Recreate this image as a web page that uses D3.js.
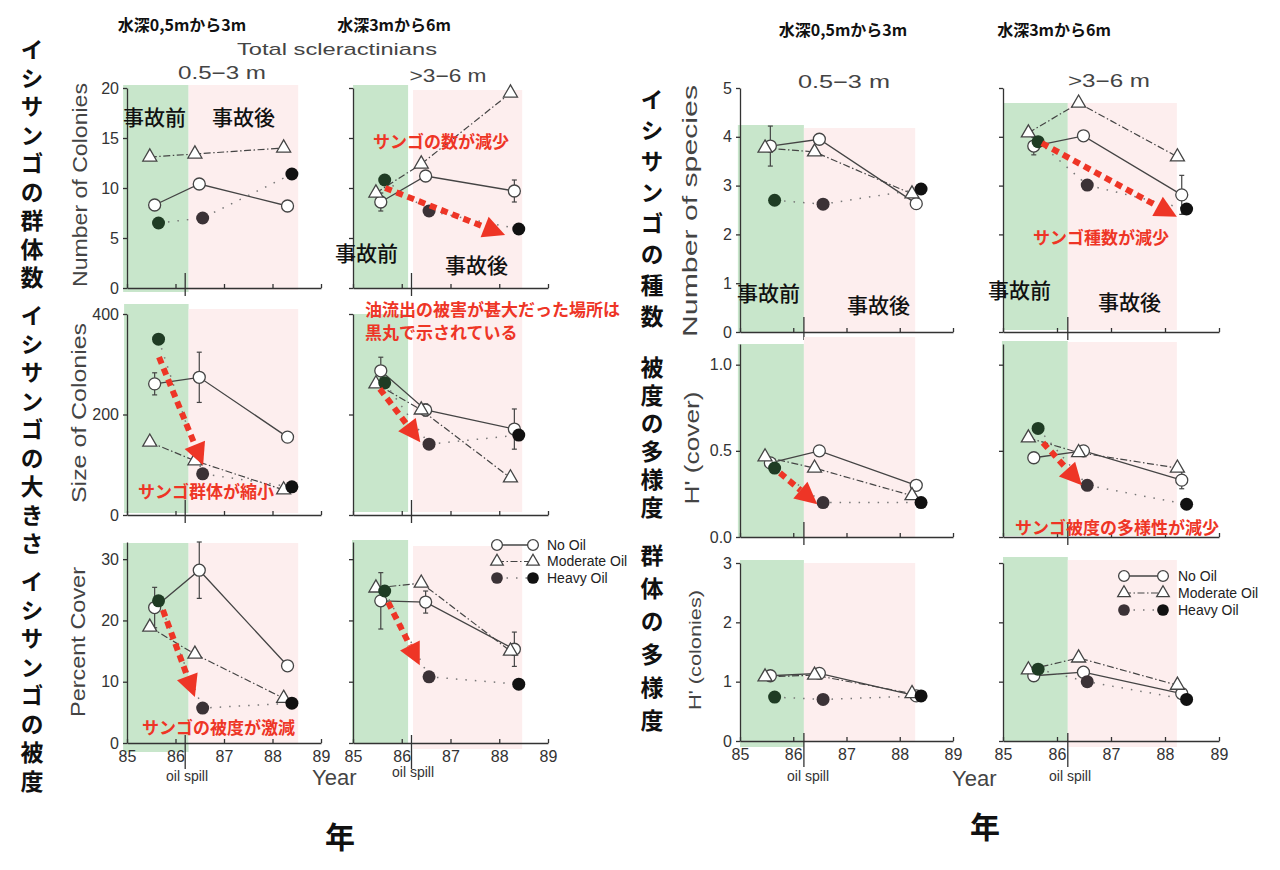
<!DOCTYPE html>
<html><head><meta charset="utf-8">
<script src="https://cdn.jsdelivr.net/npm/d3@7"></script>
<style>body{margin:0;background:#fff}svg{display:block}</style>
</head><body><svg id="c" width="1280" height="870"></svg>
<script>
// ---------- DATA ----------
const yearsNoOil = [85.57, 86.49, 88.31];
const yearsModerate = [85.47, 86.40, 88.23];
const yearsHeavy = [85.65, 86.56, 88.40];
const spillYear = 86.2;
const xTicks = [85, 86, 87, 88, 89];
const seriesNames = ["No Oil", "Moderate Oil", "Heavy Oil"];

// Number of colonies
const coloniesShallowNo = [8.3, 10.4, 8.2];
const coloniesShallowMod = [13.1, 13.4, 14.0];
const coloniesShallowHeavy = [6.5, 7.0, 11.4];
const coloniesDeepNo = [8.6, 11.2, 9.7];
const coloniesDeepNoErr = [0.9, 0, 1.1];
const coloniesDeepMod = [9.5, 12.4, 19.5];
const coloniesDeepHeavy = [10.8, 7.7, 5.9];
// Size of colonies
const sizeShallowNo = [261, 274, 155];
const sizeShallowNoErr = [22, 50, 0];
const sizeShallowMod = [145, 108, 50];
const sizeShallowHeavy = [350, 82, 56];
const sizeDeepNo = [287, 209, 171];
const sizeDeepNoErr = [27, 12, 40];
const sizeDeepMod = [261, 209, 74];
const sizeDeepHeavy = [263, 141, 159];
// Percent cover
const coverShallowNo = [22.1, 28.2, 12.6];
const coverShallowNoErr = [3.3, 4.6, 0];
const coverShallowMod = [18.9, 14.5, 7.3];
const coverShallowHeavy = [23.2, 5.7, 6.5];
const coverDeepNo = [23.2, 23.0, 15.3];
const coverDeepNoErr = [4.6, 1.8, 2.8];
const coverDeepMod = [25.3, 26.1, 15.0];
const coverDeepHeavy = [24.8, 10.8, 9.6];
// Number of species
const speciesShallowNo = [3.81, 3.95, 2.63];
const speciesShallowNoErr = [0.41, 0, 0];
const speciesShallowMod = [3.77, 3.69, 2.83];
const speciesShallowHeavy = [2.70, 2.62, 2.93];
const speciesDeepNo = [3.81, 4.02, 2.81];
const speciesDeepNoErr = [0.18, 0, 0.4];
const speciesDeepMod = [4.08, 4.69, 3.59];
const speciesDeepHeavy = [3.90, 3.01, 2.52];
// H' (cover)
const hCoverShallowNo = [0.43, 0.50, 0.30];
const hCoverShallowMod = [0.465, 0.40, 0.24];
const hCoverShallowHeavy = [0.40, 0.20, 0.20];
const hCoverDeepNo = [0.46, 0.50, 0.33];
const hCoverDeepNoErr = [0, 0, 0.05];
const hCoverDeepMod = [0.575, 0.49, 0.40];
const hCoverDeepHeavy = [0.63, 0.30, 0.19];
// H' (colonies)
const hColShallowNo = [1.10, 1.14, 0.76];
const hColShallowMod = [1.08, 1.11, 0.80];
const hColShallowHeavy = [0.74, 0.70, 0.76];
const hColDeepNo = [1.10, 1.16, 0.80];
const hColDeepMod = [1.20, 1.40, 0.94];
const hColDeepHeavy = [1.21, 1.00, 0.70];

// tick values
const ticksColonies = [0, 5, 10, 15, 20];
const ticksSize = [0, 200, 400];
const ticksCover = [0, 10, 20, 30];
const ticksSpecies = [0, 1, 2, 3, 4, 5];
const ticksHCover = [0, 0.5, 1.0];
const ticksHCol = [0, 1, 2, 3];

// ---------- LAYOUT ----------
const svg = d3.select("#c");
const RED = "#ee3526", GREEN = "#c8e6cb", PINK = "#fdeeee", AX = "#333";
const FONT = "'Liberation Sans', Arial, sans-serif";
const JP = "'Noto Sans CJK JP', sans-serif";

const cols = {
  c1: [127, 321], c2: [353, 548], c3: [740, 953], c4: [1003, 1219]
};
const rows = {
  L1: {dom: [0, 20], rng: [288, 88], ticks: ticksColonies, fmt: d3.format("d")},
  L2: {dom: [0, 400], rng: [515, 314], ticks: ticksSize, fmt: d3.format("d")},
  L3: {dom: [0, 32.8], rng: [743, 542], ticks: ticksCover, fmt: d3.format("d")},
  R1: {dom: [0, 5], rng: [332, 88], ticks: ticksSpecies, fmt: d3.format("d")},
  R2: {dom: [0, 1.12], rng: [537, 344], ticks: ticksHCover, fmt: d3.format(".1f")},
  R3: {dom: [0, 3], rng: [741, 563], ticks: ticksHCol, fmt: d3.format("d")}
};

const panels = [
  {col: "c1", row: "L1", ylab: true, xlab: false, green: [84.92, 86.27, 85, 292], pink: [86.27, 88.53, 85, 290],
    no: coloniesShallowNo, noErr: null, mod: coloniesShallowMod, heavy: coloniesShallowHeavy},
  {col: "c2", row: "L1", ylab: false, xlab: false, green: [85, 86.13, 85, 288], pink: [86.23, 88.47, 90, 288],
    no: coloniesDeepNo, noErr: coloniesDeepNoErr, mod: coloniesDeepMod, heavy: coloniesDeepHeavy,
    arrow: [[85.66, 10.0], [88.12, 5.3]]},
  {col: "c1", row: "L2", ylab: true, xlab: false, green: [84.94, 86.27, 304, 513], pink: [86.27, 88.53, 309, 513],
    no: sizeShallowNo, noErr: sizeShallowNoErr, mod: sizeShallowMod, heavy: sizeShallowHeavy,
    arrow: [[85.66, 314], [86.57, 99]]},
  {col: "c2", row: "L2", ylab: false, xlab: false, green: [85, 86.13, 314, 512], pink: [86.23, 88.47, 309, 512],
    no: sizeDeepNo, noErr: sizeDeepNoErr, mod: sizeDeepMod, heavy: sizeDeepHeavy,
    arrow: [[85.55, 251], [86.38, 145]]},
  {col: "c1", row: "L3", ylab: true, xlab: true, green: [84.92, 86.27, 543, 752], pink: [86.27, 88.53, 543, 743],
    no: coverShallowNo, noErr: coverShallowNoErr, mod: coverShallowMod, heavy: coverShallowHeavy,
    arrow: [[85.74, 21.7], [86.40, 7.5]]},
  {col: "c2", row: "L3", ylab: false, xlab: true, green: [84.98, 86.13, 540, 743], pink: [86.23, 88.47, 546, 749],
    no: coverDeepNo, noErr: coverDeepNoErr, mod: coverDeepMod, heavy: coverDeepHeavy,
    arrow: [[85.72, 23.0], [86.37, 12.7]], legend: [497, 533, 547, 545, 16.5]},
  {col: "c3", row: "R1", ylab: true, xlab: false, green: [84.96, 86.2, 125, 332], pink: [86.2, 88.29, 128, 332],
    no: speciesShallowNo, noErr: speciesShallowNoErr, mod: speciesShallowMod, heavy: speciesShallowHeavy},
  {col: "c4", row: "R1", ylab: false, xlab: false, green: [85, 86.2, 103, 330], pink: [86.2, 88.22, 103, 330],
    no: speciesDeepNo, noErr: speciesDeepNoErr, mod: speciesDeepMod, heavy: speciesDeepHeavy,
    arrow: [[85.72, 3.87], [88.22, 2.36]]},
  {col: "c3", row: "R2", ylab: true, xlab: false, green: [84.96, 86.2, 344, 537], pink: [86.2, 88.29, 337, 537],
    no: hCoverShallowNo, noErr: null, mod: hCoverShallowMod, heavy: hCoverShallowHeavy,
    arrow: [[85.75, 0.372], [86.45, 0.19]]},
  {col: "c4", row: "R2", ylab: false, xlab: false, green: [84.98, 86.2, 341, 536], pink: [86.2, 88.22, 342, 536],
    no: hCoverDeepNo, noErr: hCoverDeepNoErr, mod: hCoverDeepMod, heavy: hCoverDeepHeavy,
    arrow: [[85.74, 0.547], [86.46, 0.30]]},
  {col: "c3", row: "R3", ylab: true, xlab: true, green: [85, 86.2, 560, 747], pink: [86.2, 88.29, 563, 741],
    no: hColShallowNo, noErr: null, mod: hColShallowMod, heavy: hColShallowHeavy},
  {col: "c4", row: "R3", ylab: false, xlab: true, green: [85, 86.2, 557, 741], pink: [86.2, 88.22, 560, 747],
    no: hColDeepNo, noErr: null, mod: hColDeepMod, heavy: hColDeepHeavy, legend: [1124, 1163, 1178, 576, 17]}
];

const heavyFill = ["#1f3c24", "#3b3236", "#111"];

function drawArrow(g, x1, y1, x2, y2) {
  const dx = x2 - x1, dy = y2 - y1, L = Math.hypot(dx, dy);
  const ux = dx / L, uy = dy / L, head = 22, hw = 11;
  const bx = x2 - ux * head, by = y2 - uy * head;
  g.append("line").attr("x1", x1).attr("y1", y1).attr("x2", bx).attr("y2", by)
    .attr("stroke", RED).attr("stroke-width", 6).attr("stroke-dasharray", "7,5");
  g.append("path").attr("d", `M${x2},${y2}L${bx - uy * hw},${by + ux * hw}L${bx + uy * hw},${by - ux * hw}Z`)
    .attr("fill", RED);
}

function marker(g, type, cx, cy, fill, sc) {
  sc = sc || 1;
  if (type === "no") {
    g.append("circle").attr("cx", cx).attr("cy", cy).attr("r", 6 * sc)
      .attr("fill", "#fff").attr("stroke", "#444").attr("stroke-width", 1.3);
  } else if (type === "mod") {
    g.append("path").attr("transform", `translate(${cx},${cy})`)
      .attr("d", d3.symbol(d3.symbolTriangle, 85 * sc * sc)())
      .attr("fill", "#fff").attr("stroke", "#444").attr("stroke-width", 1.3);
  } else {
    g.append("circle").attr("cx", cx).attr("cy", cy).attr("r", 6.5 * sc).attr("fill", fill);
  }
}

const lineStyle = {
  no: {dash: null, color: "#444", w: 1.3},
  mod: {dash: "7,2.5,1.5,2.5", color: "#444", w: 1.2},
  heavy: {dash: "1.5,8", color: "#777", w: 1.5}
};

panels.forEach(p => {
  const R = rows[p.row];
  const x = d3.scaleLinear().domain([85, 89]).range(cols[p.col]);
  const y = d3.scaleLinear().domain(R.dom).range(R.rng);
  const g = svg.append("g");
  // shading
  g.append("rect").attr("x", x(p.green[0])).attr("width", x(p.green[1]) - x(p.green[0]))
    .attr("y", p.green[2]).attr("height", p.green[3] - p.green[2]).attr("fill", GREEN);
  g.append("rect").attr("x", x(p.pink[0])).attr("width", x(p.pink[1]) - x(p.pink[0]))
    .attr("y", p.pink[2]).attr("height", p.pink[3] - p.pink[2]).attr("fill", PINK);
  // axes
  const ya = d3.axisLeft(y).tickValues(R.ticks).tickSize(4).tickPadding(4).tickSizeOuter(0)
    .tickFormat(p.ylab ? R.fmt : "");
  const yg = g.append("g").attr("transform", `translate(${cols[p.col][0]},0)`).call(ya);
  const xa = d3.axisBottom(x).tickValues(xTicks).tickSize(-4).tickPadding(8).tickSizeOuter(0)
    .tickFormat(p.xlab ? d3.format("d") : "");
  const xg = g.append("g").attr("transform", `translate(0,${R.rng[0]})`).call(xa);
  [yg, xg].forEach(a => {
    a.selectAll("path,line").attr("stroke", AX).attr("stroke-width", 1.3);
    a.selectAll("text").attr("fill", "#333").style("font-family", FONT).style("font-size", "16px");
  });
  // oil spill marker
  const isBottom = p.xlab;
  g.append("line").attr("x1", x(spillYear)).attr("x2", x(spillYear))
    .attr("y1", R.rng[0] - (isBottom ? 8 : 15)).attr("y2", R.rng[0] + (isBottom ? 26 : 8))
    .attr("stroke", AX).attr("stroke-width", 1.3);

  const defs = [
    {key: "no", yrs: yearsNoOil, vals: p.no, err: p.noErr},
    {key: "mod", yrs: yearsModerate, vals: p.mod},
    {key: "heavy", yrs: yearsHeavy, vals: p.heavy}
  ];
  // lines
  defs.forEach(s => {
    const st = lineStyle[s.key];
    const pts = s.vals.map((v, i) => [x(s.yrs[i]), y(v)]);
    g.append("path").attr("d", d3.line()(pts)).attr("fill", "none")
      .attr("stroke", st.color).attr("stroke-width", st.w)
      .attr("stroke-dasharray", st.dash);
  });
  // error bars
  defs.forEach(s => {
    if (!s.err) return;
    s.vals.forEach((v, i) => {
      const e = s.err[i]; if (!e) return;
      const cx = x(s.yrs[i]);
      g.append("line").attr("x1", cx).attr("x2", cx).attr("y1", y(v - e)).attr("y2", y(v + e))
        .attr("stroke", "#444").attr("stroke-width", 1.2);
      [v - e, v + e].forEach(t => g.append("line").attr("x1", cx - 2.5).attr("x2", cx + 2.5)
        .attr("y1", y(t)).attr("y2", y(t)).attr("stroke", "#444").attr("stroke-width", 1.2));
    });
  });
  // markers
  defs.forEach(s => {
    s.vals.forEach((v, i) => marker(g, s.key, x(s.yrs[i]), y(v), heavyFill[i]));
  });
  // arrow
  if (p.arrow) drawArrow(g, x(p.arrow[0][0]), y(p.arrow[0][1]), x(p.arrow[1][0]), y(p.arrow[1][1]));
  // legend
  if (p.legend) {
    const [m1, m2, tx, ty, dy] = p.legend;
    ["no", "mod", "heavy"].forEach((k, i) => {
      const yy = ty + i * dy, st = lineStyle[k];
      g.append("line").attr("x1", m1).attr("x2", m2).attr("y1", yy).attr("y2", yy)
        .attr("stroke", st.color).attr("stroke-width", st.w).attr("stroke-dasharray", st.dash);
      marker(g, k, m1, yy, "#3b3236", 0.9);
      marker(g, k, m2, yy, "#111", 0.9);
      g.append("text").attr("x", tx).attr("y", yy).attr("dy", "0.35em").text(seriesNames[i])
        .attr("fill", "#222").style("font-family", FONT).style("font-size", "14px");
    });
  }
});

// ---------- TEXT ----------
function txt(x, y, s, o) {
  o = o || {};
  const t = svg.append("text").attr("x", x).attr("y", y).text(s)
    .attr("text-anchor", o.anchor || "middle")
    .attr("fill", o.fill || "#111")
    .style("font-family", o.font || JP)
    .style("font-size", (o.size || 16) + "px")
    .style("font-weight", o.weight || 400);
  if (o.dy) t.attr("dy", o.dy);
  if (o.len) t.attr("textLength", o.len).attr("lengthAdjust", "spacingAndGlyphs");
  if (o.rot) t.attr("transform", `rotate(-90,${x},${y})`);
  if (o.ls) t.style("letter-spacing", o.ls);
  return t;
}
// depth titles
txt(182, 31, "水深0,5mから3m", {size: 16, weight: 700});
txt(394, 31, "水深3mから6m", {size: 16, weight: 700});
txt(843, 36, "水深0,5mから3m", {size: 16, weight: 700});
txt(1054, 36, "水深3mから6m", {size: 16, weight: 700});
// english panel titles
txt(337, 55, "Total scleractinians", {font: FONT, size: 17, fill: "#444", len: 200});
txt(222, 79, "0.5−3 m", {font: FONT, size: 18, fill: "#444", len: 88});
txt(448, 82, ">3−6 m", {font: FONT, size: 18, fill: "#444", len: 77});
txt(844, 88, "0.5−3 m", {font: FONT, size: 18, fill: "#444", len: 92});
txt(1109, 87, ">3−6 m", {font: FONT, size: 18, fill: "#444", len: 82});
// y titles
txt(80, 185, "Number of Colonies", {font: FONT, size: 21, fill: "#444", len: 204, rot: true, dy: "0.35em"});
txt(79, 413, "Size of Colonies", {font: FONT, size: 21, fill: "#444", len: 180, rot: true, dy: "0.35em"});
txt(78, 642, "Percent Cover", {font: FONT, size: 21, fill: "#444", len: 150, rot: true, dy: "0.35em"});
txt(690, 211, "Number of species", {font: FONT, size: 21, fill: "#444", len: 252, rot: true, dy: "0.35em"});
txt(692, 448, "H' (cover)", {font: FONT, size: 20, fill: "#444", len: 113, rot: true, dy: "0.35em"});
txt(695, 650, "H' (colonies)", {font: FONT, size: 17, fill: "#444", len: 120, rot: true, dy: "0.35em"});
// Year / oil spill
txt(312, 785, "Year", {font: FONT, size: 22, fill: "#444", anchor: "start"});
txt(952, 786, "Year", {font: FONT, size: 22, fill: "#444", anchor: "start"});
[[187, 781], [413, 777], [808, 781], [1070, 781]].forEach(([a, b]) =>
  txt(a, b, "oil spill", {font: FONT, size: 14, fill: "#333"}));
// 年
txt(340, 848, "年", {size: 30, weight: 700});
txt(985, 838, "年", {size: 30, weight: 700});
// before/after
const jk = {size: 21, weight: 500, anchor: "start"};
txt(123, 125, "事故前", jk); txt(212, 125, "事故後", jk);
txt(335, 261, "事故前", jk); txt(445, 273, "事故後", jk);
txt(737, 301, "事故前", jk); txt(847, 313, "事故後", jk);
txt(988, 298, "事故前", jk); txt(1098, 310, "事故後", jk);
// red annotations
const rk = {size: 17, weight: 700, fill: RED, anchor: "start"};
txt(373, 148, "サンゴの数が減少", rk);
txt(365, 316, "油流出の被害が甚大だった場所は", rk);
txt(365, 339, "黒丸で示されている", rk);
txt(138, 498, "サンゴ群体が縮小", rk);
txt(142, 734, "サンゴの被度が激減", rk);
txt(1033, 244, "サンゴ種数が減少", rk);
txt(1015, 534, "サンゴ被度の多様性が減少", rk);
// vertical japanese labels (single text element, vertical writing)
function vtext(x, yTop, step, s, size) {
  svg.append("text").attr("x", x).attr("y", yTop).text(s)
    .style("writing-mode", "vertical-rl")
    .style("font-family", JP).style("font-size", size + "px").style("font-weight", 700)
    .style("letter-spacing", (step - size) + "px")
    .attr("fill", "#111");
}
vtext(32, 38, 28.5, "イシサンゴの群体数", 23);
vtext(32, 304, 28.5, "イシサンゴの大きさ", 23);
vtext(32, 570, 28.5, "イシサンゴの被度", 23);
vtext(652, 88, 31, "イシサンゴの種数", 23);
vtext(652, 356, 28, "被度の多様度", 23);
vtext(652, 544, 33, "群体の多様度", 23);
</script></body></html>
